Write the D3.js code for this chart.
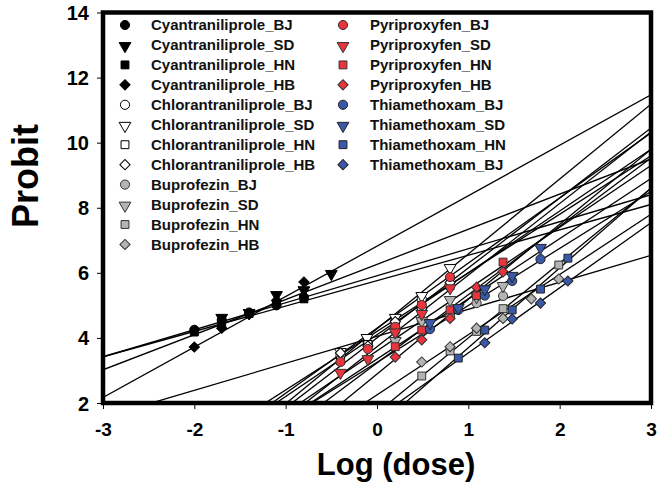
<!DOCTYPE html>
<html><head><meta charset="utf-8">
<script src="https://cdn.jsdelivr.net/npm/d3@7"></script>
<style>
html,body{margin:0;padding:0;background:#fff;}
svg{display:block;font-family:"Liberation Sans",Arial,sans-serif;}
</style></head>
<body><svg id="c" width="667" height="483"></svg>
<script>
// ---- data ----
const seriesNames = [
  "Cyantraniliprole_BJ","Cyantraniliprole_SD","Cyantraniliprole_HN","Cyantraniliprole_HB",
  "Chlorantraniliprole_BJ","Chlorantraniliprole_SD","Chlorantraniliprole_HN","Chlorantraniliprole_HB",
  "Buprofezin_BJ","Buprofezin_SD","Buprofezin_HN","Buprofezin_HB",
  "Pyriproxyfen_BJ","Pyriproxyfen_SD","Pyriproxyfen_HN","Pyriproxyfen_HB",
  "Thiamethoxam_BJ","Thiamethoxam_SD","Thiamethoxam_HN","Thiamethoxam_BJ"
];
const seriesShapes = ["circle","triangle","square","diamond"];
const seriesGroups = ["black","white","gray","red","blue"];
// log dose values per series
const logDose = [
  [-2.0,-1.7,-1.4,-1.1,-0.8],
  [-1.7,-1.4,-1.1,-0.8,-0.5],
  [-2.0,-1.7,-1.4,-1.1,-0.8],
  [-2.0,-1.7,-1.4,-1.1,-0.8],
  [-0.4,-0.1,0.2,0.49,0.8],
  [-0.4,-0.11,0.2,0.49,0.8],
  [-0.4,-0.1,0.2,0.49,0.8],
  [-0.4,-0.1,0.2,0.49,0.8],
  [0.2,0.49,0.8,1.09,1.38],
  [0.2,0.49,0.8,1.09,1.38],
  [0.49,0.8,1.09,1.38,1.99],
  [0.49,0.8,1.09,1.38,1.69,1.99],
  [-0.4,-0.1,0.2,0.49,0.8],
  [-0.4,-0.1,0.2,0.49,0.8],
  [0.2,0.49,0.8,1.09,1.38],
  [0.2,0.49,0.8,1.09,1.38],
  [0.58,0.89,1.18,1.48,1.79],
  [0.58,0.89,1.18,1.48,1.79],
  [0.89,1.18,1.48,1.79,2.09],
  [1.18,1.48,1.79,2.09]
];
// observed probit values per series
const probit = [
  [4.25,4.55,4.78,5.0,5.25],
  [4.65,4.8,5.35,5.5,6.0],
  [4.18,4.4,4.75,5.05,5.2],
  [3.72,4.3,4.72,5.15,5.72],
  [3.45,3.85,4.5,5.2,5.85],
  [3.6,4.03,4.65,5.32,6.18],
  [3.3,3.8,4.45,5.0,5.6],
  [3.54,3.75,4.5,4.9,5.7],
  [4.2,4.55,4.65,5.07,5.29],
  [3.94,4.55,5.2,5.29,5.63],
  [2.83,3.6,4.2,4.9,6.24],
  [3.26,3.73,4.3,4.6,5.2,5.81],
  [3.26,3.66,4.34,5.01,5.87],
  [2.96,3.38,4.2,4.77,5.56],
  [3.73,4.24,4.86,5.3,6.33],
  [3.41,3.94,4.6,5.56,6.03],
  [4.27,4.86,5.3,5.75,6.42],
  [4.49,4.95,5.53,5.94,6.8],
  [3.38,4.24,4.86,5.5,6.45],
  [3.85,4.58,5.07,5.75]
];
// regression line: probit = intercept + slope * log(dose)
const intercepts = [5.91,6.26,5.76,6.82, 4.3,4.28,4.1,4.2, 4.05,3.6,1.7,2.25, 4.0,3.73,3.23,2.89, 3.25,3.35,1.25,1.54];
const slopes     = [0.83,1.08,0.78,1.55, 2.0,2.3,1.9,1.8, 0.83,1.9,2.3,1.85, 2.15,2.2,2.1,2.3, 1.75,1.85,2.45,2.0];
const xTicks = [-3,-2,-1,0,1,2,3];
const yTicks = [2,4,6,8,10,12,14];

// ---- drawing ----
const svg = d3.select("#c");
const L=103, R=651, T=12.5, B=403;
const x = d3.scaleLinear().domain([-3,3]).range([L,R]);
const y = d3.scaleLinear().domain([2,14]).range([B,T]);

const fills = {black:"#000", white:"#fff", gray:"#b4b4b4", red:"#e8343a", blue:"#3a58a8"};
const strokes = {black:"#000", white:"#000", gray:"#333", red:"#333", blue:"#222"};
const symType = {circle:d3.symbolCircle, triangle:d3.symbolTriangle, square:d3.symbolSquare, diamond:d3.symbolSquare};
const symSize = {circle:66, triangle:60, square:62, diamond:52};
function symPath(shape){ return d3.symbol().type(symType[shape]).size(symSize[shape])(); }
function symTransform(shape,px,py){
  if(shape==="triangle") return `translate(${px},${py+1}) rotate(180)`;
  if(shape==="diamond") return `translate(${px},${py}) rotate(45)`;
  return `translate(${px},${py})`;
}

svg.append("defs").append("clipPath").attr("id","clip")
  .append("rect").attr("x",L).attr("y",T).attr("width",R-L).attr("height",B-T);

// axes
const xAxis = svg.append("g").attr("transform",`translate(0,${B})`)
  .call(d3.axisBottom(x).tickValues(xTicks).tickSize(6).tickPadding(14).tickFormat(d=>String(d)));
const yAxis = svg.append("g").attr("transform",`translate(${L},0)`)
  .call(d3.axisLeft(y).tickValues(yTicks).tickSize(6).tickPadding(8).tickFormat(d=>String(d)));
[xAxis,yAxis].forEach(g=>{
  g.select(".domain").remove();
  g.selectAll(".tick line").attr("stroke","#000").attr("stroke-width",1);
  g.selectAll(".tick text").attr("fill","#000").attr("font-weight","bold")
   .attr("font-family","'Liberation Sans',Arial,sans-serif");
});
yAxis.selectAll(".tick text").attr("font-size",20).attr("dy","0.35em");
xAxis.selectAll(".tick text").attr("font-size",19).attr("dy","0.71em");

// legend
const legend = svg.append("g");
seriesNames.forEach((name,i)=>{
  const col = i<12?0:1;
  const row = i<12?i:i-12;
  const sx = col===0?125:343, tx = col===0?151:370;
  const ly = 25 + row*19.95;
  const grp = seriesGroups[Math.floor(i/4)];
  const shape = seriesShapes[i%4];
  legend.append("path").attr("d",symPath(shape)).attr("transform",symTransform(shape,sx,ly))
    .attr("fill",fills[grp]).attr("stroke",strokes[grp]).attr("stroke-width",1);
  legend.append("text").attr("x",tx).attr("y",ly).attr("dy","0.36em")
    .attr("font-size",15).attr("font-weight","bold").attr("fill","#111").text(name);
});

// regression lines
const lines = svg.append("g").attr("clip-path","url(#clip)");
seriesNames.forEach((n,i)=>{
  const f = v => intercepts[i] + slopes[i]*v;
  lines.append("line").attr("x1",x(-3)).attr("y1",y(f(-3))).attr("x2",x(3)).attr("y2",y(f(3)))
    .attr("stroke","#000").attr("stroke-width",1.3);
});

// points
const pts = svg.append("g").attr("clip-path","url(#clip)");
seriesNames.forEach((n,i)=>{
  const grp = seriesGroups[Math.floor(i/4)];
  const shape = seriesShapes[i%4];
  logDose[i].forEach((d,j)=>{
    pts.append("path").attr("d",symPath(shape)).attr("transform",symTransform(shape,x(d),y(probit[i][j])))
      .attr("fill",fills[grp]).attr("stroke",strokes[grp]).attr("stroke-width",1);
  });
});

// frame
svg.append("rect").attr("x",L).attr("y",T).attr("width",R-L).attr("height",B-T)
  .attr("fill","none").attr("stroke","#000").attr("stroke-width",4.5);

// titles
svg.append("text").attr("transform",`translate(38,176) rotate(-90)`).attr("text-anchor","middle")
  .attr("font-size",36).attr("font-weight","bold").attr("fill","#000").text("Probit");
svg.append("text").attr("x",396).attr("y",475).attr("text-anchor","middle")
  .attr("font-size",31).attr("font-weight","bold").attr("fill","#000").text("Log (dose)");
</script></body></html>
